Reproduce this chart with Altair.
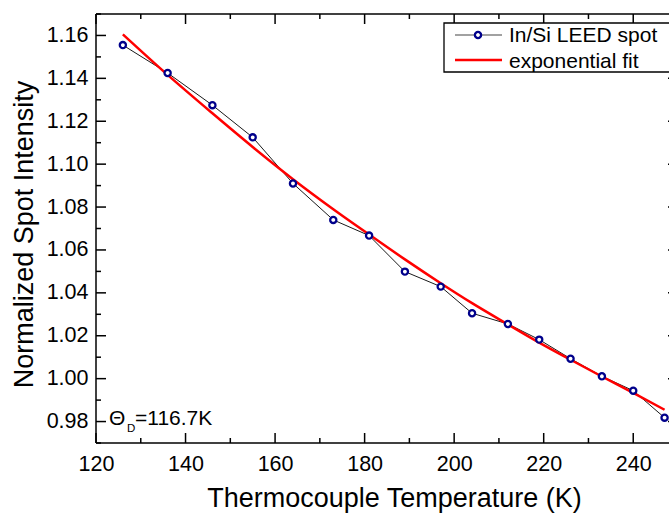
import altair as alt
import pandas as pd

# ---- data ----
temperature_K = [126, 136, 146, 155, 164, 173, 181, 189, 197, 204, 212, 219, 226, 233, 240, 247]
spot_intensity = [1.1555, 1.1425, 1.1275, 1.1125, 1.0910, 1.0740, 1.0667, 1.0499,
                  1.0429, 1.0305, 1.0255, 1.0182, 1.0093, 1.0011, 0.9944, 0.9818]
fit_temperature_K = [126, 136, 146, 155, 164, 173, 181, 189, 197, 204, 212, 219, 226, 233, 240, 247]
fit_intensity = [1.1605, 1.1416, 1.1237, 1.1080, 1.0930, 1.0790, 1.0672, 1.0556,
                 1.0445, 1.0352, 1.0253, 1.0168, 1.0088, 1.0010, 0.9934, 0.9855]

x_major_ticks = [120, 140, 160, 180, 200, 220, 240]
x_minor_ticks = [130, 150, 170, 190, 210, 230, 250]
y_major_ticks = [0.98, 1.00, 1.02, 1.04, 1.06, 1.08, 1.10, 1.12, 1.14, 1.16]
y_minor_ticks = [0.97, 0.99, 1.01, 1.03, 1.05, 1.07, 1.09, 1.11, 1.13, 1.15, 1.17]

x_title = "Thermocouple Temperature (K)"
y_title = "Normalized Spot Intensity"
legend_labels = ["In/Si LEED spot", "exponential fit"]
annotation_parts = ["\u0398", "D", "=116.7K"]

FONT = "Liberation Sans"
NAVY = "#00008B"
W, H = 573, 429
XR = 582  # pixel position of x = 250 (right frame, just outside the window)

df = pd.DataFrame({"T": temperature_K, "I": spot_intensity})
fit_df = pd.DataFrame({"T": fit_temperature_K, "F": fit_intensity})
xmaj = pd.DataFrame({"v": x_major_ticks})
xmin = pd.DataFrame({"v": x_minor_ticks})
ymaj = pd.DataFrame({"v": y_major_ticks})
ymin = pd.DataFrame({"v": y_minor_ticks})
one = pd.DataFrame({"k": [0]})

xs = alt.Scale(domain=[120, 250], range=[0, XR], nice=False, zero=False)
ys = alt.Scale(domain=[0.97, 1.17], nice=False, zero=False)

bottom_axis = alt.Axis(orient="bottom", values=x_major_ticks, format="d",
                       domain=False, grid=False, ticks=True, tickSize=0, tickOpacity=0,
                       labelFont=FONT, labelFontSize=21.5, labelColor="black",
                       labelPadding=10, labelFlush=False, labelOverlap=False,
                       title=x_title, titleFont=FONT, titleFontSize=27,
                       titleFontWeight="normal", titleColor="black",
                       titleX=298, titleY=63.5, titleAlign="center",
                       titleBaseline="alphabetic")
left_axis = alt.Axis(orient="left", values=y_major_ticks, format=".2f",
                     domain=False, grid=False, ticks=True, tickSize=0, tickOpacity=0,
                     labelFont=FONT, labelFontSize=21.5, labelColor="black",
                     labelPadding=8, labelFlush=False, labelOverlap=False,
                     title=y_title, titleFont=FONT, titleFontSize=27,
                     titleFontWeight="normal", titleColor="black",
                     titleX=-64, titleY=220, titleAngle=270, titleAlign="center",
                     titleBaseline="alphabetic")

data_line = alt.Chart(df).mark_line(color="#1a1a1a", strokeWidth=1).encode(
    x=alt.X("T:Q", scale=xs, axis=bottom_axis),
    y=alt.Y("I:Q", scale=ys, axis=left_axis),
)

fit_line = alt.Chart(fit_df).mark_line(color="#FF0000", strokeWidth=2.5,
                                       interpolate="monotone").encode(
    x=alt.X("T:Q", scale=xs, axis=None),
    y=alt.Y("F:Q", scale=ys, axis=None),
)

points = alt.Chart(df).mark_point(shape="circle", filled=True, fill="white",
                                  stroke=NAVY, strokeWidth=2.3, size=38,
                                  opacity=1).encode(
    x=alt.X("T:Q", scale=xs, axis=None),
    y=alt.Y("I:Q", scale=ys, axis=None),
)


def xticks(src, y0, y1):
    return alt.Chart(src).mark_rule(color="black", strokeWidth=1.5).encode(
        x=alt.X("v:Q", scale=xs, axis=None), y=alt.value(y0), y2=alt.value(y1))


def yticks(src, x0, x1):
    return alt.Chart(src).mark_rule(color="black", strokeWidth=1.5).encode(
        y=alt.Y("v:Q", scale=ys, axis=None), x=alt.value(x0), x2=alt.value(x1))


ticks = [
    xticks(xmaj, H - 10, H), xticks(xmin, H - 5, H),
    xticks(xmaj, 0, 10), xticks(xmin, 0, 5),
    yticks(ymaj, 0, 10), yticks(ymin, 0, 5),
    yticks(ymaj, XR - 10, XR), yticks(ymin, XR - 5, XR),
]

# plot frame
frame_left = alt.Chart(one).mark_rule(color="black", strokeWidth=1.5).encode(
    x=alt.value(0), y=alt.value(0), y2=alt.value(H))
frame_top = alt.Chart(one).mark_rule(color="black", strokeWidth=1.5).encode(
    x=alt.value(0), x2=alt.value(XR), y=alt.value(0))
frame_bottom = alt.Chart(one).mark_rule(color="black", strokeWidth=1.5).encode(
    x=alt.value(0), x2=alt.value(XR), y=alt.value(H))

# legend
leg_box = alt.Chart(one).mark_rect(fill="white", stroke="black", strokeWidth=1.3).encode(
    x=alt.value(348), x2=alt.value(600), y=alt.value(9), y2=alt.value(58))
leg_l1 = alt.Chart(one).mark_rule(color="#444444", strokeWidth=1.2).encode(
    x=alt.value(359), x2=alt.value(406), y=alt.value(21))
leg_p1 = alt.Chart(one).mark_point(shape="circle", filled=True, fill="white",
                                   stroke=NAVY, strokeWidth=2.3, size=38,
                                   opacity=1).encode(
    x=alt.value(382), y=alt.value(21))
leg_l2 = alt.Chart(one).mark_rule(color="#FF0000", strokeWidth=2.5).encode(
    x=alt.value(359), x2=alt.value(406), y=alt.value(46))
leg_t1 = alt.Chart(one).mark_text(text=legend_labels[0], font=FONT, fontSize=21,
                                  align="left", baseline="alphabetic",
                                  color="black").encode(
    x=alt.value(413), y=alt.value(28))
leg_t2 = alt.Chart(one).mark_text(text=legend_labels[1], font=FONT, fontSize=21,
                                  align="left", baseline="alphabetic",
                                  color="black").encode(
    x=alt.value(413), y=alt.value(53.5))

# annotation
ann_theta = alt.Chart(one).mark_text(text=annotation_parts[0], font=FONT, fontSize=21,
                                     align="left", baseline="alphabetic",
                                     color="black").encode(
    x=alt.value(13), y=alt.value(411))
ann_sub = alt.Chart(one).mark_text(text=annotation_parts[1], font=FONT, fontSize=11.5,
                                   align="left", baseline="alphabetic",
                                   color="black").encode(
    x=alt.value(31), y=alt.value(418))
ann_val = alt.Chart(one).mark_text(text=annotation_parts[2], font=FONT, fontSize=21,
                                   align="left", baseline="alphabetic",
                                   color="black").encode(
    x=alt.value(39), y=alt.value(411))

chart = alt.layer(
    data_line, fit_line, points,
    *ticks,
    frame_left, frame_top, frame_bottom,
    leg_box, leg_l1, leg_p1, leg_l2, leg_t1, leg_t2,
    ann_theta, ann_sub, ann_val,
).resolve_axis(x="independent", y="independent").properties(
    width=W, height=H,
    padding={"left": 96, "top": 14, "right": 0, "bottom": 71},
    autosize=alt.AutoSizeParams(type="none"),
    background="white",
).configure_view(strokeWidth=0)

chart.save("out.html", embed_options={"renderer": "svg", "actions": False})
